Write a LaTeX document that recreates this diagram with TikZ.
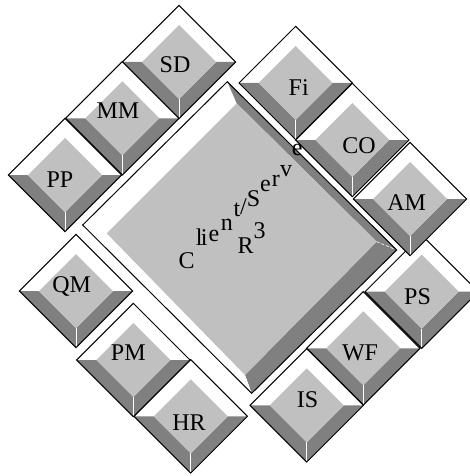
\documentclass[tikz,border=0pt]{standalone}
\usepackage{fontspec}
\setmainfont{Liberation Serif}
\definecolor{bevelgray}{RGB}{128,128,128}
\definecolor{facegray}{RGB}{192,192,192}
\tikzset{
  tile/.pic={
    \fill[white] (-56.7,0) -- (0,-56.7) -- (56.7,0) -- (37,0) -- (0,-37) -- (-37,0) -- cycle;
    \fill[bevelgray] (-56.7,0) -- (0,56.7) -- (56.7,0) -- (37,0) -- (0,37) -- (-37,0) -- cycle;
    \fill[facegray] (-37,0) -- (0,-37) -- (37,0) -- (0,37) -- cycle;
    \draw[white,line width=0.6pt] (0,37) -- (0,56.7);
    \draw[line width=1pt] (-56.7,0) -- (0,-56.7) -- (56.7,0) -- (0,56.7) -- cycle;
  },
  tilelabel/.style={font=\fontsize{24}{28}\selectfont,inner sep=0pt},
  wordart/.style={font=\fontsize{24}{28}\selectfont,inner sep=0pt,anchor=base west}
}
\begin{document}
\begin{tikzpicture}[x=1pt,y=-1pt]
\useasboundingbox (0,0) rectangle (470,476);

% Central block with bevel
\fill[white] (82.7,225) -- (227.3,81.7) -- (236.7,103.3) -- (106.7,233.3) -- cycle;
\fill[bevelgray] (227.3,81.7) -- (396.7,250) -- (376.7,241.7) -- (236.7,103.3) -- cycle;
\fill[bevelgray] (396.7,250) -- (251.7,393.3) -- (245,375) -- (376.7,241.7) -- cycle;
\fill[white] (251.7,393.3) -- (82.7,225) -- (106.7,233.3) -- (245,375) -- cycle;
\fill[facegray] (236.7,103.3) -- (376.7,241.7) -- (245,375) -- (106.7,233.3) -- cycle;
\draw[white,densely dashed,line width=0.6pt] (376.7,241.7) -- (396.7,250);
\draw[line width=1pt] (82.7,225) -- (227.3,81.7) -- (396.7,250) -- (251.7,393.3) -- cycle;

% Client/Server R^3
\node[wordart] (c1) at (178.3,268) {C};
\node[wordart] (c2) at (195.7,245) {l};
\node[wordart] (c3) at (200.7,245) {i};
\node[wordart] (c4) at (208.3,241.7) {e};
\node[wordart] (c5) at (220.7,230) {n};
\node[wordart] (c6) at (233.3,216.7) {t};
\node[wordart] (c7) at (240,214) {/};
\node[wordart] (c8) at (246.7,206.7) {S};
\node[wordart] (c9) at (260,191.7) {e};
\node[wordart] (c10) at (271.7,186.7) {r};
\node[wordart] (c11) at (280,176.7) {v};
\node[wordart] (c12) at (291.7,155) {e};
\node[wordart] (r1) at (237.3,253.3) {R};
\node[wordart] (r2) at (253.3,238.3) {3};

% Upper left row
\pic at (179,62) {tile};
\pic at (122.3,118.3) {tile};
\pic at (65,175) {tile};
\node[tilelabel] (sd) at (175,65) {SD};
\node[tilelabel] (mm) at (118,111) {MM};
\node[tilelabel] (pp) at (60,180) {PP};

% Lower right row
\pic at (421.7,291.7) {tile};
\pic at (363.3,348.3) {tile};
\pic at (306.7,405.3) {tile};
\node[tilelabel] (ps) at (417.5,296.7) {PS};
\node[tilelabel] (wf) at (360,353) {WF};
\node[tilelabel] (is) at (307.5,400) {IS};

% Upper right row
\pic at (295.7,83) {tile};
\pic at (352.3,140) {tile};
\pic at (410,199) {tile};
\node[tilelabel] (fi) at (298.7,87.5) {Fi};
\node[tilelabel] (co) at (359,146) {CO};
\node[tilelabel] (am) at (406.7,202.5) {AM};

% Lower left row
\pic at (76,291) {tile};
\pic at (133.3,360) {tile};
\pic at (190.7,416.3) {tile};
\node[tilelabel] (qm) at (71.7,286) {QM};
\node[tilelabel] (pm) at (128.3,353) {PM};
\node[tilelabel] (hr) at (189,422.5) {HR};
\end{tikzpicture}
\end{document}
